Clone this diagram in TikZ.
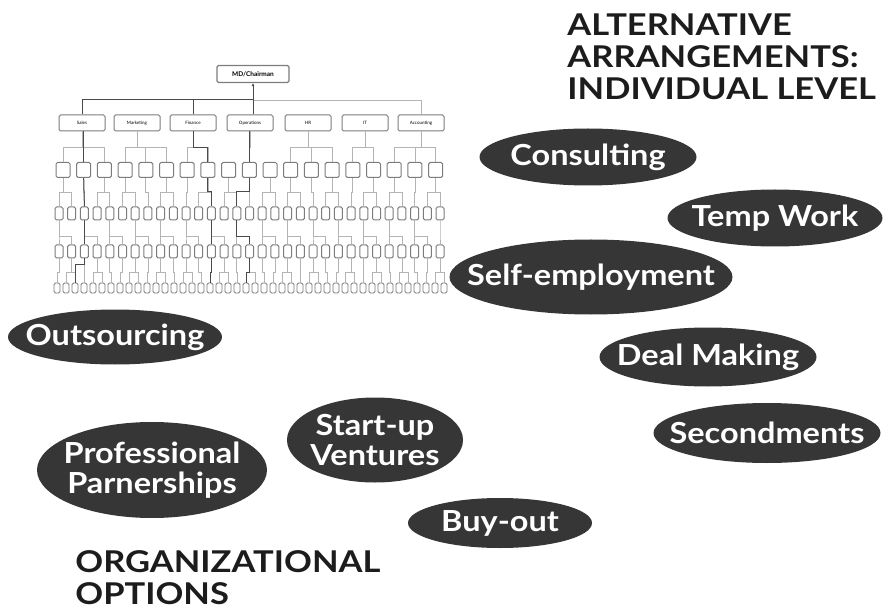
\documentclass[tikz,border=0pt]{standalone}
\usepackage{fontspec}
\setmainfont{Lato}
\newfontfamily\widefont[FakeStretch=1.12]{Lato}
\newfontfamily\headfont[FakeStretch=1.15]{Lato}
\usetikzlibrary{shapes.geometric,arrows.meta,positioning}
\definecolor{oval}{HTML}{363636}
\definecolor{heading}{HTML}{1C1C1C}
\definecolor{treeline}{HTML}{B4B4B4}
\definecolor{boxline}{HTML}{7C7C7C}
\definecolor{pathline}{HTML}{4A4A4A}
\tikzset{
every picture/.style={
line width=0.8pt
}}

\begin{document}
\begin{tikzpicture}[x=1pt, y=-1pt,
option/.style = {ellipse, fill=oval, inner sep=0pt,
  label={[optiontext]center:#1}},
optiontext/.style = {text=white, inner sep=0pt, align=center,
  font=\widefont\bfseries\fontsize{29}{30}\selectfont},
heading/.style = {anchor=north west, inner sep=0pt, text=heading, align=left,
  font=\headfont\bfseries\fontsize{30}{32}\selectfont},
unit/.style = {draw=boxline, fill=white, rounded corners=1.5pt, line width=1pt, inner sep=0pt},
dept/.style = {unit, minimum width=46, minimum height=16, font=\fontsize{4.5}{5}\selectfont},
tree/.style = {draw=treeline, line width=0.7pt},
trail/.style = {draw=pathline, line width=1pt}]

\useasboundingbox (0,0) rectangle (885,609);

% org chart
\node[unit, minimum width=72, minimum height=17, line width=1.2pt, font=\bfseries\fontsize{6.5}{7}\selectfont] (md) at (253,74) {MD/Chairman};
\node[dept] (sales) at (82,123) {Sales};
\node[dept] (mkt) at (137,123) {Marketing};
\node[dept] (fin) at (193,123) {Finance};
\node[dept] (ops) at (250,123) {Operations};
\node[dept] (hr) at (308,123) {HR};
\node[dept] (it) at (365,123) {IT};
\node[dept] (acc) at (421,123) {Accounting};
\coordinate (hub) at (253,100);

\foreach \i in {1,...,19}
  \node[unit, minimum width=14, minimum height=15] (b2-\i) at ({63+20.7*(\i-1)},170) {};
\foreach \i in {1,...,31}
  \node[unit, minimum width=8, minimum height=13] (b3-\i) at ({59+12.7*(\i-1)},213.5) {};
\foreach \i in {1,...,31}
  \node[unit, minimum width=8, minimum height=13] (b4-\i) at ({59+12.7*(\i-1)},251.5) {};
\foreach \i in {1,...,44}
  \node[unit, minimum width=6, minimum height=10, line width=0.8pt] (b5-\i) at ({57+9*(\i-1)},288) {};

\draw[tree] (hub) -| (acc.north);
\foreach \d/\kids in {sales/{1,2,3}, mkt/{4,5,6}, fin/{7,8}, ops/{10}, hr/{12,13,14}, it/{15,16}, acc/{17,18,19}}
  \foreach \k in \kids
    \draw[tree] (\d.south) -- ++(0,16) -| (b2-\k.north);
\foreach \j in {1,...,31} {
  \pgfmathtruncatemacro{\p}{min(19,max(1,round((12.7*(\j-1)-4)/20.7)+1))}
  \draw[tree] (b2-\p.south) -- ++(0,14) -| (b3-\j.north);
  \pgfmathtruncatemacro{\q}{\j-mod(\j-1,2)}
  \draw[tree] (b3-\q.south) -- ++(0,16) -| (b4-\j.north);
}
\foreach \j in {1,...,44} {
  \pgfmathtruncatemacro{\p}{min(31,max(1,round((9*(\j-1)-2)/12.7)+1))}
  \draw[tree] (b4-\p.south) -- ++(0,14) -| (b5-\j.north);
}

% highlighted reporting lines
\draw[trail] (hub) -| (sales.north);
\draw[trail] (fin.north) -- (fin.north |- hub);
\draw[trail] (ops.north -| hub) -- (hub);
\draw[trail, -{Latex[length=3pt,width=3pt]}] (hub) -- (md.south);
\draw[trail] (sales.south -| b2-2.north) -- (b2-2.north);
\draw[trail] (b2-2.south) -- (b3-3.north);
\draw[trail] (b3-3.south) -- (b4-3.north);
\draw[trail] (b4-3.south) -- ++(0,6) -| (b5-3.north);
\draw[trail] (fin.south) -- ++(0,16) -| (b2-8.north);
\draw[trail] (b2-8.south) -- ++(0,14) -| (b3-13.north);
\draw[trail] (b3-13.south) -- (b4-13.north);
\draw[trail] (b4-13.south) -- ++(0,14) -| (b5-18.north);
\draw[trail] (b2-10.north) -- (b2-10.north |- ops.south);
\draw[trail] (b2-10.south) -- ++(0,14) -| (b3-15.north);
\draw[trail] (b3-15.south) -- ++(0,16) -| (b4-16.north);
\draw[trail] (b4-16.south) -- ++(0,14) -| (b5-22.north);

% headings
\node[heading] (indiv) at (567,13) {ALTERNATIVE\\ARRANGEMENTS:\\INDIVIDUAL LEVEL};
\node[heading] (orgopt) at (75,550) {ORGANIZATIONAL\\OPTIONS};

% individual arrangements
\node[option={Consulting}, minimum width=217, minimum height=57] (consult) at (588,157) {};
\node[option={Temp Work}, minimum width=215, minimum height=57] (temp) at (775,218) {};
\node[option={Self-employment}, minimum width=283, minimum height=75] (self) at (591,277) {};
\node[option={Deal Making}, minimum width=217, minimum height=59] (deal) at (708,357) {};
\node[option={Secondments}, minimum width=227, minimum height=60] (second) at (767,433) {};

% organizational options
\node[option={Outsourcing}, minimum width=214, minimum height=55] (outsrc) at (115,337) {};
\node[option={Professional\\Parnerships}, minimum width=230, minimum height=96] (partner) at (152,470) {};
\node[option={Start-up\\Ventures}, minimum width=176, minimum height=85] (startup) at (375,440) {};
\node[option={Buy-out}, minimum width=184, minimum height=50] (buyout) at (500,523) {};
\end{tikzpicture}
\end{document}
